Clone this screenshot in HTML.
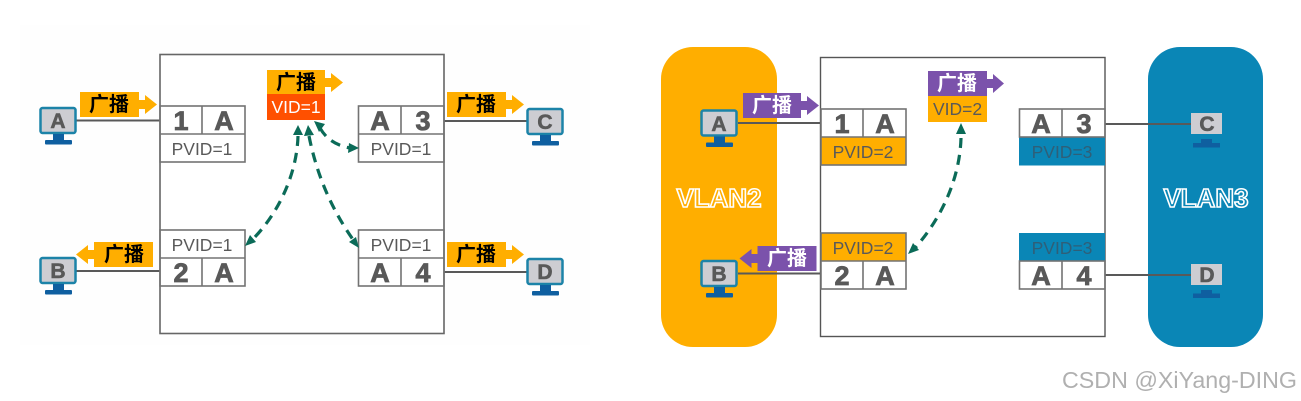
<!DOCTYPE html>
<html><head><meta charset="utf-8"><style>
html,body{margin:0;padding:0;background:#fff;width:1301px;height:401px;overflow:hidden}
svg{display:block}
text{font-family:"Liberation Sans","Noto Sans CJK SC",sans-serif}
.g{fill:#595959;stroke:#595959;stroke-width:.8;font-weight:bold;font-size:27px;text-anchor:middle}
.c{fill:#595959;stroke:#595959;stroke-width:.6;font-weight:bold;font-size:21px;text-anchor:middle}
.p{fill:#595959;font-size:17.5px;text-anchor:middle}
.t{font-weight:bold;font-size:20px;text-anchor:middle;font-family:"Noto Sans CJK SC",sans-serif}
.b{fill:none;stroke:#737373;stroke-width:1.6}
.w{stroke:#595959;stroke-width:2;fill:none}
.d{fill:none;stroke:#0b6b58;stroke-width:3.2;stroke-dasharray:10 7}
.h{fill:#0b6b58}
.v{font-weight:bold;font-size:26px;text-anchor:middle;stroke-width:1.6}
</style></head><body>
<svg width="1301" height="401" viewBox="0 0 1301 401" xmlns="http://www.w3.org/2000/svg">
<rect x="20" y="25" width="570" height="320" fill="#fefefe"/>
<!-- LEFT PANEL -->
<rect x="160" y="54.500" width="284" height="279" fill="#fff" stroke="#666" stroke-width="1.6"/>
<path class="w" d="M76 120.500H160M76 271H160M444 121H528M444 272H528"/>
<!-- ports -->
<g>
<rect class="b" x="160" y="106" width="85" height="56" fill="#fff"/><path class="b" d="M160 134H245M202 106V134"/>
<text class="g" x="181" y="130">1</text><text class="g" x="224" y="130">A</text><text class="p" x="202" y="155">PVID=1</text>
<rect class="b" x="160" y="230" width="85" height="56"/><path class="b" d="M160 258H245M202 258V286"/>
<text class="p" x="202" y="251">PVID=1</text><text class="g" x="181" y="282">2</text><text class="g" x="224" y="282">A</text>
<rect class="b" x="358.500" y="106" width="85.500" height="56"/><path class="b" d="M358 134H444M401 106V134"/>
<text class="g" x="380" y="130">A</text><text class="g" x="423" y="130">3</text><text class="p" x="401" y="155">PVID=1</text>
<rect class="b" x="358.500" y="230" width="85.500" height="56"/><path class="b" d="M358 258H444M401 258V286"/>
<text class="p" x="401" y="251">PVID=1</text><text class="g" x="380" y="282">A</text><text class="g" x="423" y="282">4</text>
</g>
<!-- tags -->
<g fill="#ffae00">
<rect x="80" y="92" width="59" height="25"/><path d="M139 100h6v-5l12 9.500-12 9.500v-5h-6z"/>
<rect x="94" y="242" width="59" height="25"/><path d="M94 250h-6v-5l-12 9.500 12 9.500v-5h6z"/>
<rect x="447" y="92" width="59" height="25"/><path d="M506 100h6v-5l12 9.500-12 9.500v-5h-6z"/>
<rect x="447" y="242" width="59" height="25"/><path d="M506 250h6v-5l12 9.500-12 9.500v-5h-6z"/>
<rect x="267" y="70" width="58" height="25"/><path d="M325 78h6v-5l12 9.500-12 9.500v-5h-6z"/>
</g>
<rect x="267" y="94" width="58" height="26" fill="#ff5000"/>
<text class="t" x="109" y="111">广播</text><text class="t" x="124" y="261">广播</text>
<text class="t" x="476" y="111">广播</text><text class="t" x="476" y="261">广播</text>
<text class="t" x="296" y="89">广播</text>
<text x="296" y="113" fill="#fff" font-size="17.500" text-anchor="middle">VID=1</text>
<!-- left dashed -->
<path class="d" d="M298 136C297 172 280 212 252 240"/>
<path class="h" d="M298 125l5 10h-10zM245 246l5-11 6 7z"/>
<path class="d" d="M309 136C317 176 332 210 354 241"/>
<path class="h" d="M308 125l6 10-10 1zM359 248l-10-6 7-5z"/>
<path class="d" d="M320 128C328 142 340 146 350 148"/>
<path class="h" d="M314 121l11 3-6 8zM359 148l-11 5 1-10z"/>
<!-- computers -->
<g id="pc">
<rect x="40.500" y="108" width="35" height="25" rx="2" fill="#cdcdd2" stroke="#1c83a8" stroke-width="2.500"/>
<rect x="53" y="134" width="11" height="7" fill="#0f5fa0"/><rect x="45" y="140" width="27" height="4.500" rx="1" fill="#0f5fa0"/>
</g>
<text class="c" x="58" y="128">A</text>
<use href="#pc" y="150"/><text class="c" x="58" y="278">B</text>
<use href="#pc" x="487" y="1"/><text class="c" x="545" y="129">C</text>
<use href="#pc" x="487" y="151"/><text class="c" x="545" y="279">D</text>

<!-- RIGHT PANEL -->
<rect x="820.500" y="57.500" width="284.500" height="279" fill="#fff" stroke="#555" stroke-width="1.4"/>
<rect x="661" y="47" width="116" height="300" rx="32" fill="#ffae00"/>
<rect x="1148" y="47" width="115" height="300" rx="32" fill="#0a86b6"/>
<path class="w" d="M738 123H821M738 273.500H821M1105 124H1191M1105 275H1191"/>
<!-- ports -->
<rect x="821" y="137" width="85" height="28" fill="#ffae00"/>
<rect class="b" x="821" y="109" width="85" height="56"/><path class="b" d="M821 137H906M863 109V137"/>
<text class="g" x="842" y="133">1</text><text class="g" x="885" y="133">A</text><text class="p" x="863" y="158">PVID=2</text>
<rect x="821" y="233" width="85" height="28" fill="#ffae00"/>
<rect class="b" x="821" y="233" width="85" height="56"/><path class="b" d="M821 261H906M863 261V289"/>
<text class="p" x="863" y="254">PVID=2</text><text class="g" x="842" y="285">2</text><text class="g" x="885" y="285">A</text>
<rect x="1019" y="137" width="86" height="28.500" fill="#0a86b6"/>
<rect class="b" x="1019.500" y="109" width="85.500" height="28"/><path class="b" d="M1062 109V137"/>
<text class="g" x="1041" y="133">A</text><text class="g" x="1084" y="133">3</text><text class="p" x="1062" y="158" style="fill:#2f5f78">PVID=3</text>
<rect x="1019" y="233" width="86" height="28.500" fill="#0a86b6"/>
<rect class="b" x="1019.500" y="261" width="85.500" height="28"/><path class="b" d="M1062 261V289"/>
<text class="p" x="1062" y="254" style="fill:#2f5f78">PVID=3</text><text class="g" x="1041" y="285">A</text><text class="g" x="1084" y="285">4</text>
<!-- tags -->
<g fill="#7b52ab">
<rect x="743" y="93" width="58" height="25"/><path d="M801 101h6v-5l12 9.500-12 9.500v-5h-6z"/>
<rect x="757.500" y="246" width="59" height="25"/><path d="M757.500 254h-6v-5l-12 9.500 12 9.500v-5h6z"/>
<rect x="928" y="71" width="59" height="25"/><path d="M987 79h6v-5l11 9.500-11 9.500v-5h-6z"/>
</g>
<rect x="928" y="96" width="59" height="26" fill="#ffae00"/>
<text class="t" x="772" y="112" fill="#fff">广播</text><text class="t" x="787" y="265" fill="#fff">广播</text>
<text class="t" x="957" y="90" fill="#fff">广播</text>
<text x="957.500" y="115" fill="#595959" font-size="17.500" text-anchor="middle">VID=2</text>
<path class="d" d="M961 138C960 174 945 214 915 248"/>
<path class="h" d="M961 123l5 11h-10zM908 254l5-11 6 7z"/>
<!-- computers right -->
<use href="#pc" x="661" y="2.500"/><text class="c" x="719" y="131">A</text>
<use href="#pc" x="661" y="153"/><text class="c" x="719" y="281">B</text>
<rect x="1191" y="113" width="31" height="21" fill="#cdcdd2"/>
<rect x="1193" y="143" width="27" height="4.500" fill="#0f5fa0"/><rect x="1201" y="139" width="11" height="5" fill="#0f5fa0"/>
<text class="c" x="1207" y="131">C</text>
<rect x="1191" y="264" width="31" height="21" fill="#cdcdd2"/>
<rect x="1193" y="293.500" width="27" height="4.500" fill="#0f5fa0"/><rect x="1201" y="290" width="11" height="5" fill="#0f5fa0"/>
<text class="c" x="1207" y="282">D</text>
<!-- VLAN labels -->
<text class="v" x="719" y="207" fill="#ffae00" stroke="#fff" textLength="85" lengthAdjust="spacingAndGlyphs">VLAN2</text>
<text class="v" x="1206" y="207" fill="#0a86b6" stroke="#fff" textLength="85" lengthAdjust="spacingAndGlyphs">VLAN3</text>
<!-- watermark -->
<text x="1062" y="388" font-size="23.500" fill="#b0b0b0" textLength="235" lengthAdjust="spacingAndGlyphs">CSDN @XiYang-DING</text>
</svg>
</body></html>
